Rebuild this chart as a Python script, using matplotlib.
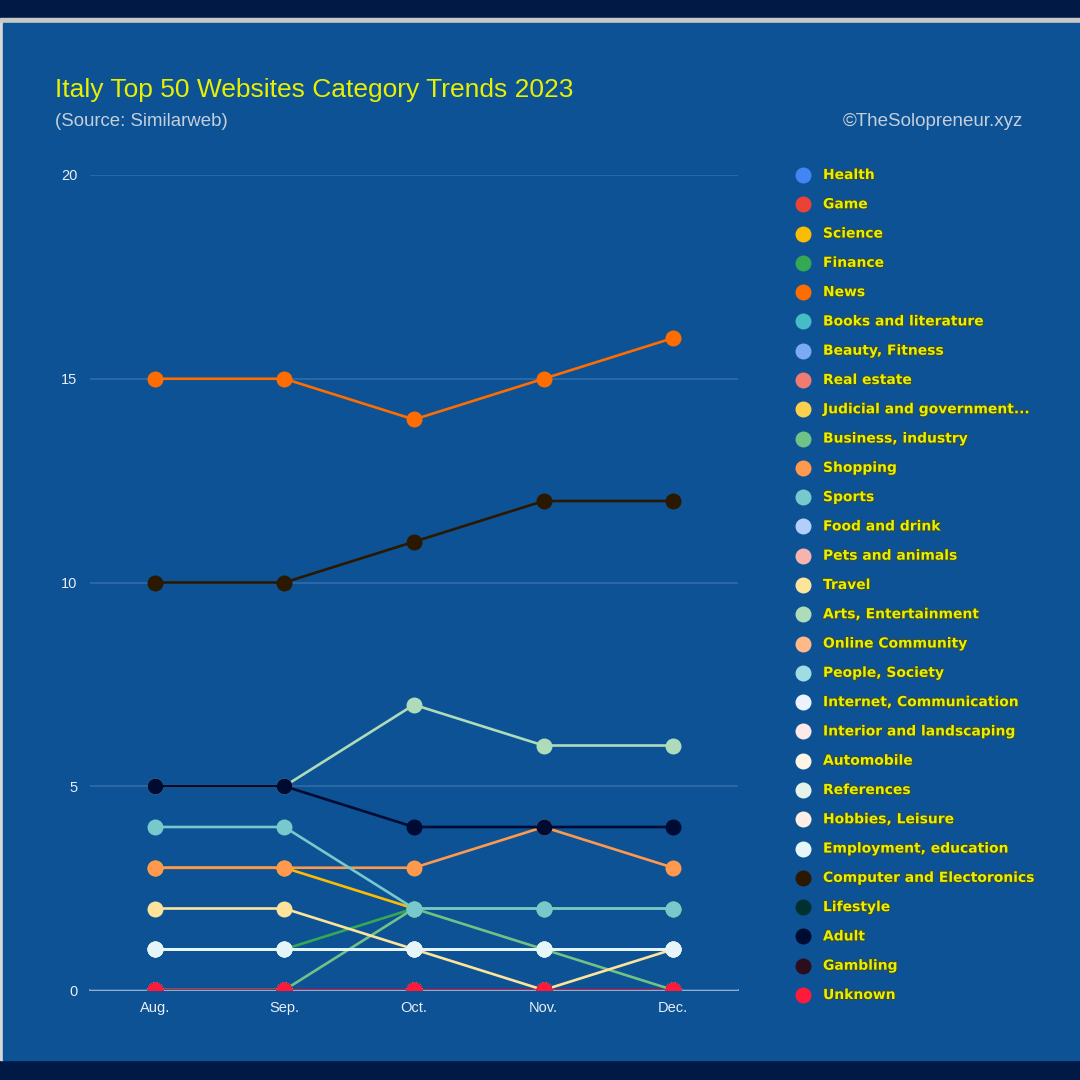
import matplotlib
matplotlib.use("Agg")
import matplotlib.pyplot as plt
import matplotlib.patheffects as pe
from matplotlib.patches import Rectangle

months = ["Aug.", "Sep.", "Oct.", "Nov.", "Dec."]

categories = ["Health", "Game", "Science", "Finance", "News", "Books and literature",
              "Beauty, Fitness", "Real estate", "Judicial and government...",
              "Business, industry", "Shopping", "Sports", "Food and drink",
              "Pets and animals", "Travel", "Arts, Entertainment", "Online Community",
              "People, Society", "Internet, Communication", "Interior and landscaping",
              "Automobile", "References", "Hobbies, Leisure", "Employment, education",
              "Computer and Electoronics", "Lifestyle", "Adult", "Gambling", "Unknown"]

colors = ["#4285f4", "#ea4335", "#fbbc04", "#34a853", "#ff6d01", "#46bdc6",
          "#7baaf7", "#f07b72", "#fcd04f", "#71c287", "#ff994d", "#76c9cd",
          "#b3cefb", "#f7b4ae", "#fde49b", "#aedcba", "#ffb988", "#a0dde2",
          "#ecf3fe", "#fde9e8", "#fff5e5", "#e5f4ea", "#ffeee5", "#e6f6f8",
          "#2a1800", "#00302f", "#000b33", "#2b0d1e", "#ff1a3c"]

# number of sites per category, Aug..Dec
values = {
    "Health": [0, 0, 0, 0, 0],
    "Game": [0, 0, 0, 0, 0],
    "Science": [3, 3, 2, 2, 2],
    "Finance": [1, 1, 2, 2, 2],
    "News": [15, 15, 14, 15, 16],
    "Books and literature": [0, 0, 0, 0, 0],
    "Beauty, Fitness": [0, 0, 0, 0, 0],
    "Real estate": [0, 0, 0, 0, 0],
    "Judicial and government...": [0, 0, 0, 0, 0],
    "Business, industry": [0, 0, 2, 1, 0],
    "Shopping": [3, 3, 3, 4, 3],
    "Sports": [4, 4, 2, 2, 2],
    "Food and drink": [0, 0, 0, 0, 0],
    "Pets and animals": [0, 0, 0, 0, 0],
    "Travel": [2, 2, 1, 0, 1],
    "Arts, Entertainment": [5, 5, 7, 6, 6],
    "Online Community": [0, 0, 0, 0, 0],
    "People, Society": [0, 0, 0, 0, 0],
    "Internet, Communication": [1, 1, 1, 1, 1],
    "Interior and landscaping": [0, 0, 0, 0, 0],
    "Automobile": [0, 0, 0, 0, 0],
    "References": [1, 1, 1, 1, 1],
    "Hobbies, Leisure": [0, 0, 0, 0, 0],
    "Employment, education": [1, 1, 1, 1, 1],
    "Computer and Electoronics": [10, 10, 11, 12, 12],
    "Lifestyle": [0, 0, 0, 0, 0],
    "Adult": [5, 5, 4, 4, 4],
    "Gambling": [0, 0, 0, 0, 0],
    "Unknown": [0, 0, 0, 0, 0],
}

panel = "#0d5294"
yellow = "#e6f000"

fig = plt.figure(figsize=(10.8, 10.8), dpi=100, facecolor="#001a45")

# frame pieces (figure fraction), kept behind the axes
fig.patches.append(Rectangle((0, 1 - 23/1080), 1, 5/1080, transform=fig.transFigure,
                             color="#c8c8c8", zorder=-5))
fig.patches.append(Rectangle((0, 20/1080), 3/1080, 1 - 43/1080, transform=fig.transFigure,
                             color="#d8d8d8", zorder=-5))
fig.patches.append(Rectangle((3/1080, 20/1080), 1, 1 - 43/1080, transform=fig.transFigure,
                             color=panel, zorder=-5))

ax = fig.add_axes([90/1080, 1 - 990/1080, (738 - 90)/1080, (990 - 175)/1080])
ax.set_facecolor(panel)

x = list(range(len(months)))
for name, c in zip(categories, colors):
    ax.plot(x, values[name], color=c, lw=1.9, marker="o", ms=11.5,
            markeredgewidth=0, solid_capstyle="round")

ax.set_xlim(-0.5, 4.5)
ax.set_ylim(0, 20)
ax.set_yticks([0, 5, 10, 15, 20])
ax.set_xticks(x)
ax.set_xticklabels(months)
ax.grid(axis="y", color="#2f6aa6", lw=1.3)
ax.set_axisbelow(True)
for s in ["top", "right", "left"]:
    ax.spines[s].set_visible(False)
ax.spines["bottom"].set_color("#a9c0dc")
ax.spines["bottom"].set_linewidth(1.2)
ax.spines["bottom"].set_zorder(0.5)
ax.tick_params(length=0, colors="#e8eef6", labelsize=10.5, pad=8)
ax.tick_params(axis="y", pad=9)
for t in ax.get_xticklabels() + ax.get_yticklabels():
    t.set_family(["Liberation Sans", "DejaVu Sans"])

# titles
fig.text(55/1080, 1 - 90/1080, "Italy Top 50 Websites Category Trends 2023", color=yellow,
         fontsize=19, va="center", ha="left", family=["Liberation Sans", "DejaVu Sans"])
fig.text(55/1080, 1 - 122/1080, "(Source: Similarweb)", color="#c4cfdc",
         fontsize=13.4, va="center", ha="left", family=["Liberation Sans", "DejaVu Sans"])
fig.text(1023/1080, 1 - 122/1080, "\u00a9TheSolopreneur.xyz", color="#c4cfdc",
         fontsize=13.5, va="center", ha="right", family=["Liberation Sans", "DejaVu Sans"])

# legend
lax = fig.add_axes([0, 0, 1, 1], facecolor="none")
lax.set_xlim(0, 1080)
lax.set_ylim(1080, 0)
lax.axis("off")
step = (995 - 175) / (len(categories) - 1)
shadow = [pe.withStroke(linewidth=1.4, foreground="#3c4a30")]
for i, (name, c) in enumerate(zip(categories, colors)):
    yy = 175 + i * step
    lax.plot([803], [yy], marker="o", ms=11.5, color=c, markeredgewidth=0)
    lax.text(823, yy, name, color=yellow, fontsize=10, fontweight="bold",
             va="center", ha="left", family=["DejaVu Sans"], path_effects=shadow)

fig.savefig("out.png", dpi=100, facecolor=fig.get_facecolor())
